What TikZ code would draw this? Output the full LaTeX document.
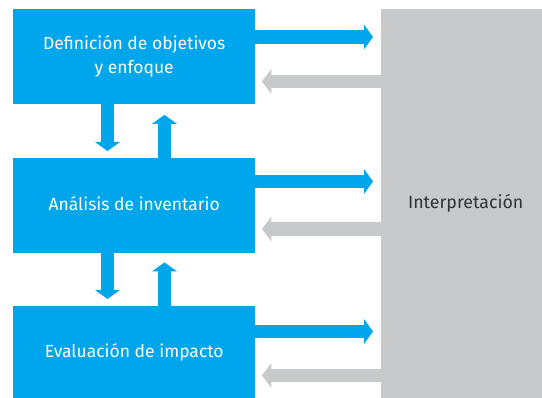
\documentclass[tikz,border=0pt]{standalone}
\usepackage{fontspec}
\setmainfont{Fira Sans}
\usetikzlibrary{arrows.meta}
\definecolor{boxblue}{HTML}{00A6EB}
\definecolor{boxgray}{HTML}{C8C9CB}
\definecolor{txtdark}{HTML}{333333}
\tikzset{
  stagebox/.style={fill=boxblue, text=white, anchor=north west, minimum width=242pt, inner sep=0pt, align=center, font=\fontsize{17.5}{24}\selectfont},
  interbox/.style={fill=boxgray, text=txtdark, anchor=north west, minimum width=161pt, minimum height=389pt, inner sep=0pt, font=\fontsize{17.8}{22}\selectfont},
  bluearrow/.style={draw=boxblue, line width=13.5pt, -{Triangle[width=25pt,length=9pt,line width=0pt]}},
  grayarrow/.style={draw=boxgray, line width=13.5pt, -{Triangle[width=25pt,length=9.5pt,line width=0pt]}}
}
\begin{document}
\begin{tikzpicture}[x=1pt,y=1pt]
\useasboundingbox (0,0) rectangle (542,398);
\node[stagebox, minimum height=95pt] (b1) at (13,389) {Definición de objetivos\\y enfoque};
\node[stagebox, minimum height=95pt] (b2) at (13,240) {\raisebox{4pt}{Análisis de inventario}};
\node[stagebox, minimum height=92pt] (b3) at (13,92) {Evaluación de impacto};
\node[interbox] (g) at (381,389) {\hspace*{8pt}Interpretación};
% right arrows
\coordinate (r1) at (0,361);
\coordinate (r2) at (0,216.5);
\coordinate (r3) at (0,66.5);
\draw[bluearrow, shorten >=8pt] (b1.east |- r1) -- (g.west |- r1);
\draw[bluearrow, shorten >=8pt] (b2.east |- r2) -- (g.west |- r2);
\draw[bluearrow, shorten >=8pt] (b3.east |- r3) -- (g.west |- r3);
% gray return arrows
\coordinate (l1) at (0,316.5);
\coordinate (l2) at (0,169);
\coordinate (l3) at (0,22.5);
\draw[grayarrow, shorten >=6.5pt] (g.west |- l1) -- (b1.east |- l1);
\draw[grayarrow, shorten >=6.5pt] (g.west |- l2) -- (b2.east |- l2);
\draw[grayarrow, shorten >=6.5pt] (g.west |- l3) -- (b3.east |- l3);
% vertical arrows
\coordinate (dn) at (107.5,0);
\coordinate (up) at (164.5,0);
\draw[bluearrow, shorten >=7pt] (b1.south -| dn) -- (b2.north -| dn);
\draw[bluearrow, shorten >=10.5pt] (b2.north -| up) -- (b1.south -| up);
\draw[bluearrow, shorten >=7pt] (b2.south -| dn) -- (b3.north -| dn);
\draw[bluearrow, shorten >=9pt] (b3.north -| up) -- (b2.south -| up);
\end{tikzpicture}
\end{document}
